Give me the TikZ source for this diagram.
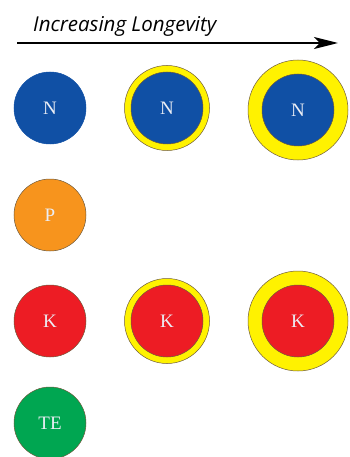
\documentclass[tikz,border=0pt]{standalone}
\usepackage{fontspec}
\setmainfont{Liberation Serif}
\newfontfamily\titlefont{Open Sans}
\usetikzlibrary{arrows.meta}
\definecolor{cblue}{RGB}{16,80,165}
\definecolor{cyel}{RGB}{255,242,0}
\definecolor{corange}{RGB}{247,148,29}
\definecolor{cred}{RGB}{237,28,36}
\definecolor{cgreen}{RGB}{0,166,81}
\definecolor{cedge}{RGB}{110,90,60}
\definecolor{clabel}{RGB}{235,238,245}
\begin{document}
\begin{tikzpicture}[x=1pt,y=-1pt,
  core/.style={circle, minimum size=72pt, inner sep=0pt, draw=cedge, line width=0.5pt,
    text=clabel, font=\fontsize{19}{19}\selectfont},
  halo/.style={circle, inner sep=0pt, fill=cyel, draw=cedge, line width=0.5pt},
  longarrow/.style={line width=2pt, -{Stealth[length=24pt,width=12pt,inset=6pt]}}]
\useasboundingbox (0,0) rectangle (349,457);
% title
\node[anchor=base west, inner sep=0pt, font=\titlefont\itshape\fontsize{20.5}{20.5}\selectfont] (title) at (33,31.5) {Increasing Longevity};
\coordinate (arrS) at (17,43);
\coordinate (arrE) at (338,43);
\draw[longarrow] (arrS) -- (arrE);
% halos
\node[halo, minimum size=85pt] (hN2) at (167,108) {};
\node[halo, minimum size=100pt] (hN3) at (298,110) {};
\node[halo, minimum size=85pt] (hK2) at (167,321) {};
\node[halo, minimum size=100pt] (hK3) at (298,321) {};
% cores
\node[core, fill=cblue, draw=cblue] (N1) at (50,108) {N};
\node[core, fill=cblue] (N2) at (167,108) {N};
\node[core, fill=cblue] (N3) at (298,110) {N};
\node[core, fill=corange] (P) at (50,215) {P};
\node[core, fill=cred] (K1) at (50,321) {K};
\node[core, fill=cred] (K2) at (167,321) {K};
\node[core, fill=cred] (K3) at (298,321) {K};
\node[core, fill=cgreen] (TE) at (50,423) {TE};
\end{tikzpicture}
\end{document}
